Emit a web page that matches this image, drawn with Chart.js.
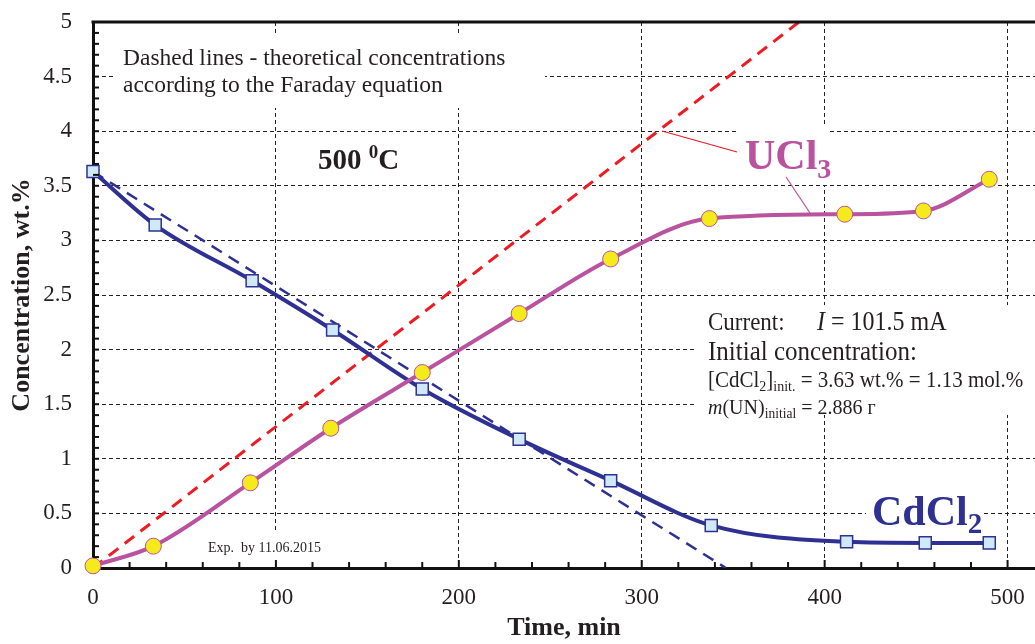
<!DOCTYPE html>
<html>
<head>
<meta charset="utf-8">
<script src="https://cdn.jsdelivr.net/npm/chart.js@4/dist/chart.umd.min.js"></script>
<style>
  body { margin: 0; background: #fff; }
  canvas { display: block; }
</style>
</head>
<body>
<canvas id="chart" width="1035" height="644"></canvas>
<script>
// measured data (time, min / concentration, wt.%)
const timeCd = [0, 34, 87, 131, 180, 233, 283, 338, 412, 455, 490];
const cdcl2 = [3.63, 3.14, 2.63, 2.18, 1.64, 1.18, 0.80, 0.39, 0.24, 0.23, 0.23];
const timeU = [0, 33, 86, 130, 180, 233, 283, 337, 411, 454, 490];
const ucl3 = [0.02, 0.20, 0.78, 1.28, 1.79, 2.33, 2.83, 3.20, 3.24, 3.27, 3.56];
// theoretical (Faraday) lines
const faradayTime = [0, 386];
const faradayU = [0, 5];
const faradayCdTime = [0, 346];
const faradayCd = [3.63, 0];
const xTicks = [0, 100, 200, 300, 400, 500];
const yTicks = [0, 0.5, 1, 1.5, 2, 2.5, 3, 3.5, 4, 4.5, 5];

const SERIF = '"Liberation Serif", "Times New Roman", serif';
const NAVY = '#2e3192';
const PURPLE = '#b9529f';
const RED = '#ed1c24';
const INK = '#231f20';

const pts = (xs, ys) => xs.map((x, i) => ({ x: x, y: ys[i] }));

// draw a line of mixed-font text (sub/superscripts), optional vertical stretch
function rich(ctx, x, y, parts, color, sy) {
    ctx.save();
    ctx.translate(x, y);
    ctx.scale(1, sy || 1);
    ctx.fillStyle = color;
    ctx.textBaseline = 'alphabetic';
    ctx.textAlign = 'left';
    let cx = 0;
    parts.forEach(p => {
        ctx.font = p.f;
        ctx.fillText(p.t, cx, p.dy || 0);
        cx += ctx.measureText(p.t).width;
    });
    ctx.restore();
}

const decorations = {
    id: 'decorations',
    beforeDatasetsDraw(chart) {
        const ctx = chart.ctx;
        ctx.save();
        // white boxes behind the notes hide the grid
        ctx.fillStyle = '#fff';
        [[113, 33, 432, 75], [310, 140, 100, 36], [738, 125, 92, 60],
         [866, 490, 116, 50], [697, 305, 338, 110], [205, 532, 125, 34]]
            .forEach(r => ctx.fillRect(r[0], r[1], r[2], r[3]));

        rich(ctx, 123, 65, [{ t: 'Dashed lines - theoretical concentrations', f: '23.5px ' + SERIF }], INK);
        rich(ctx, 123, 92, [{ t: 'according to the Faraday equation', f: '23.5px ' + SERIF }], INK);

        rich(ctx, 318, 169, [
            { t: '500 ', f: 'bold 29px ' + SERIF },
            { t: '0', f: 'bold 19px ' + SERIF, dy: -11 },
            { t: 'C', f: 'bold 29px ' + SERIF }
        ], INK);

        rich(ctx, 745, 169, [
            { t: 'UCl', f: 'bold 42px ' + SERIF },
            { t: '3', f: 'bold 28px ' + SERIF, dy: 9 }
        ], PURPLE);

        rich(ctx, 872, 525, [
            { t: 'CdCl', f: 'bold 42px ' + SERIF },
            { t: '2', f: 'bold 29px ' + SERIF, dy: 8 }
        ], NAVY);

        rich(ctx, 708, 330, [{ t: 'Current:', f: '23px ' + SERIF }], INK, 1.1);
        rich(ctx, 817, 330, [
            { t: 'I', f: 'italic 24px ' + SERIF },
            { t: ' = 101.5 mA', f: '24px ' + SERIF }
        ], INK, 1.1);
        rich(ctx, 708, 360, [{ t: 'Initial concentration:', f: '25px ' + SERIF }], INK, 1.1);
        rich(ctx, 708, 387, [
            { t: '[CdCl', f: '21px ' + SERIF },
            { t: '2', f: '14px ' + SERIF, dy: 4 },
            { t: ']', f: '21px ' + SERIF },
            { t: 'init.', f: '14px ' + SERIF, dy: 4 },
            { t: ' = 3.63 wt.% = 1.13 mol.%', f: '21px ' + SERIF }
        ], INK, 1.1);
        rich(ctx, 708, 414, [
            { t: 'm', f: 'italic 20px ' + SERIF },
            { t: '(UN)', f: '20px ' + SERIF },
            { t: 'initial', f: '13.5px ' + SERIF, dy: 4 },
            { t: ' = 2.886 г', f: '20px ' + SERIF }
        ], INK, 1.1);
        rich(ctx, 208, 552, [{ t: 'Exp.  by 11.06.2015', f: '14px ' + SERIF }], INK);
        ctx.restore();
    },
    afterDatasetsDraw(chart) {
        const ctx = chart.ctx;
        ctx.save();
        ctx.lineWidth = 1.2;
        ctx.strokeStyle = RED;
        ctx.beginPath(); ctx.moveTo(662, 131); ctx.lineTo(737, 152); ctx.stroke();
        ctx.strokeStyle = PURPLE;
        ctx.beginPath(); ctx.moveTo(786, 177); ctx.lineTo(810, 213); ctx.stroke();
        ctx.restore();
    },
    afterDraw(chart) {
        const ctx = chart.ctx;
        const a = chart.chartArea;
        const xs = chart.scales.x, ys = chart.scales.y;
        ctx.save();
        ctx.strokeStyle = '#111';
        ctx.lineWidth = 3;
        ctx.beginPath(); ctx.moveTo(a.left - 1.5, a.top); ctx.lineTo(a.right, a.top); ctx.stroke();
        ctx.lineWidth = 2;
        for (let i = 1; i <= 50; i++) {
            const y = ys.getPixelForValue(i / 10);
            ctx.beginPath(); ctx.moveTo(a.left, y); ctx.lineTo(a.left + 6, y); ctx.stroke();
        }
        for (let v = 20; v <= 500; v += 20) {
            const x = xs.getPixelForValue(v);
            const len = v % 100 === 0 ? 8 : 6;
            ctx.beginPath(); ctx.moveTo(x, a.bottom); ctx.lineTo(x, a.bottom - len); ctx.stroke();
        }
        ctx.restore();
    }
};

new Chart(document.getElementById('chart'), {
    type: 'scatter',
    data: {
        datasets: [{
            label: 'UCl3',
            data: pts(timeU, ucl3),
            showLine: true,
            clip: false,
            cubicInterpolationMode: 'monotone',
            borderColor: PURPLE,
            borderWidth: 4,
            pointStyle: 'circle',
            pointRadius: 8,
            pointBackgroundColor: '#f5ea1c',
            pointBorderColor: PURPLE,
            pointBorderWidth: 1,
            order: 0
        }, {
            label: 'CdCl2',
            data: pts(timeCd, cdcl2),
            showLine: true,
            clip: false,
            cubicInterpolationMode: 'monotone',
            borderColor: NAVY,
            borderWidth: 4,
            pointStyle: 'rect',
            pointRadius: 8.5,
            pointBackgroundColor: '#cfe9f9',
            pointBorderColor: NAVY,
            pointBorderWidth: 1.5,
            order: 1
        }, {
            label: 'UCl3 theoretical',
            data: pts(faradayTime, faradayU),
            showLine: true,
            borderColor: RED,
            borderWidth: 3,
            borderDash: [12, 8],
            pointRadius: 0,
            order: 2
        }, {
            label: 'CdCl2 theoretical',
            data: pts(faradayCdTime, faradayCd),
            showLine: true,
            borderColor: NAVY,
            borderWidth: 2.5,
            borderDash: [12, 8],
            pointRadius: 0,
            order: 3
        }]
    },
    options: {
        responsive: false,
        animation: false,
        layout: { autoPadding: false, padding: { top: 22, right: 0, left: 0, bottom: 0 } },
        plugins: { legend: { display: false }, tooltip: { enabled: false } },
        scales: {
            x: {
                type: 'linear',
                min: 0,
                max: 515,
                afterBuildTicks: s => { s.ticks = xTicks.map(v => ({ value: v })); },
                afterFit: s => { s.height = 76; s.paddingLeft = 0; s.paddingRight = 0; },
                grid: { color: '#222', lineWidth: 1, drawTicks: false },
                border: { display: true, color: '#111', width: 3, dash: [4, 3] },
                ticks: { color: INK, font: { family: SERIF, size: 23 }, padding: 16, maxRotation: 0,
                         callback: v => String(v) },
                title: { display: true, text: 'Time, min', color: INK,
                         font: { family: SERIF, size: 26, weight: 'bold' }, padding: { top: 0, bottom: 0 } }
            },
            y: {
                type: 'linear',
                min: 0,
                max: 5,
                afterBuildTicks: s => { s.ticks = yTicks.map(v => ({ value: v })); },
                afterFit: s => { s.width = 93; s.paddingTop = 0; s.paddingBottom = 0; },
                grid: { color: '#222', lineWidth: 1, drawTicks: false },
                border: { display: true, color: '#111', width: 3, dash: [4, 3] },
                ticks: { color: INK, font: { family: SERIF, size: 23 }, padding: 21,
                         callback: v => String(v) },
                title: { display: true, text: 'Concentration, wt.%', color: INK,
                         font: { family: SERIF, size: 26, weight: 'bold' }, padding: { top: 7, bottom: 0 } }
            }
        }
    },
    plugins: [decorations]
});
</script>
</body>
</html>
